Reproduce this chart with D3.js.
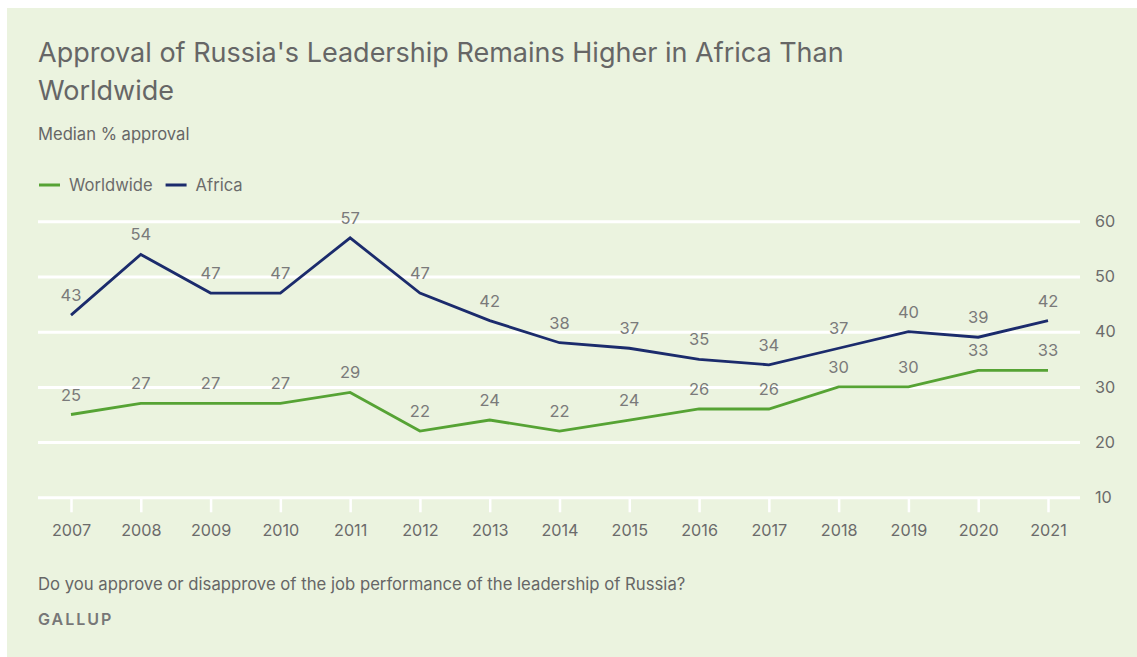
<!DOCTYPE html>
<html>
<head>
<meta charset="utf-8">
<script src="https://cdn.jsdelivr.net/npm/d3@7"></script>
<style>
  html, body { margin: 0; padding: 0; background: #ffffff; }
  svg { display: block; }
  text { font-family: "Inter", "Noto Sans", sans-serif; }
</style>
</head>
<body>
<svg id="chart" width="1137" height="657"></svg>
<script>
// Median % approval of Russia's leadership, by year
const years = [2007, 2008, 2009, 2010, 2011, 2012, 2013, 2014, 2015, 2016, 2017, 2018, 2019, 2020, 2021];
const worldwide = [25, 27, 27, 27, 29, 22, 24, 22, 24, 26, 26, 30, 30, 33, 33];
const africa = [43, 54, 47, 47, 57, 47, 42, 38, 37, 35, 34, 37, 40, 39, 42];
const yTicks = [10, 20, 30, 40, 50, 60];
const seriesNames = ["Worldwide", "Africa"];
const seriesColors = ["#56a334", "#1b2b6c"];

const svg = d3.select("#chart");
const W = 1137, H = 657;

// panel background
svg.append("rect")
  .attr("x", 7).attr("y", 8)
  .attr("width", W - 7).attr("height", H - 8)
  .attr("fill", "#ebf3df");

// titles
const titleG = svg.append("g").attr("fill", "#666666");
titleG.append("text").attr("x", 38).attr("y", 62)
  .attr("font-size", 27).text("Approval of Russia's Leadership Remains Higher in Africa Than");
titleG.append("text").attr("x", 38).attr("y", 100)
  .attr("font-size", 27).text("Worldwide");
svg.append("text").attr("x", 38).attr("y", 140)
  .attr("font-size", 16.6).attr("fill", "#666666").text("Median % approval");

// legend
const legend = svg.append("g").attr("transform", "translate(39,185)");
let lx = 0;
seriesNames.forEach((name, i) => {
  legend.append("line").attr("x1", lx).attr("x2", lx + 21)
    .attr("y1", 0).attr("y2", 0)
    .attr("stroke", seriesColors[i]).attr("stroke-width", 3);
  const t = legend.append("text").attr("x", lx + 30).attr("y", 6)
    .attr("font-size", 16.6).attr("fill", "#6b6b6b").text(name);
  lx += 30 + t.node().getComputedTextLength() + 13;
});

// scales
const x = d3.scalePoint().domain(years).range([71, 1048]);
const y = d3.scaleLinear().domain([10, 60]).range([497.3, 221.3]);
const gridLeft = 38, gridRight = 1080;

// horizontal grid lines + right-hand y labels
const yAxis = d3.axisRight(y).tickValues(yTicks)
  .tickSize(gridRight - gridLeft).tickPadding(15);
const yg = svg.append("g").attr("transform", `translate(${gridLeft},0)`).call(yAxis);
yg.select(".domain").remove();
yg.selectAll(".tick line").attr("stroke", "#ffffff").attr("stroke-width", 3);
yg.selectAll(".tick text").attr("fill", "#6b6b6b").attr("font-size", 16.2)
  .attr("font-family", "Inter, 'Noto Sans', sans-serif");

// bottom axis ticks + year labels
const xAxis = d3.axisBottom(x).tickSize(15).tickPadding(12);
const xg = svg.append("g").attr("transform", `translate(0,${y(10)})`).call(xAxis);
xg.select(".domain").remove();
xg.selectAll(".tick line").attr("stroke", "#ffffff").attr("stroke-width", 2.5);
xg.selectAll(".tick text").attr("fill", "#6b6b6b").attr("font-size", 16.2)
  .attr("font-family", "Inter, 'Noto Sans', sans-serif");

// series lines and value labels
const line = d3.line().x((d, i) => x(years[i])).y(d => y(d));
[worldwide, africa].forEach((vals, s) => {
  svg.append("path").datum(vals)
    .attr("d", line).attr("fill", "none")
    .attr("stroke", seriesColors[s]).attr("stroke-width", 2.8)
    .attr("stroke-linejoin", "miter");
  svg.append("g").selectAll("text").data(vals).join("text")
    .attr("x", (d, i) => x(years[i]))
    .attr("y", d => y(d) - 14)
    .attr("text-anchor", "middle")
    .attr("font-size", 16.5).attr("fill", "#7a7a7a")
    .text(d => d);
});

// footer
svg.append("text").attr("x", 38).attr("y", 590)
  .attr("font-size", 16.7).attr("fill", "#666666")
  .text("Do you approve or disapprove of the job performance of the leadership of Russia?");
svg.append("text").attr("x", 38).attr("y", 625)
  .attr("font-size", 16).attr("font-weight", 600).attr("letter-spacing", 2)
  .attr("fill", "#777777").text("GALLUP");
</script>
</body>
</html>
